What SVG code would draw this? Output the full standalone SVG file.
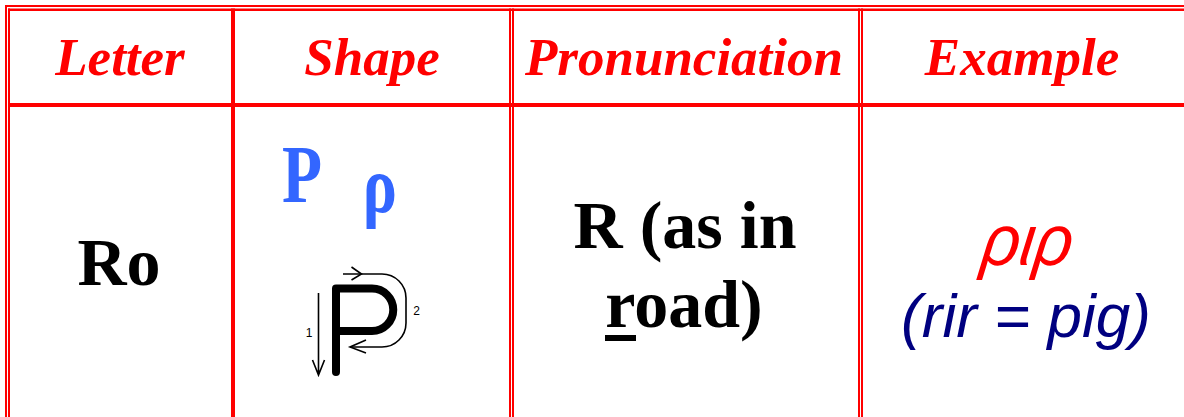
<svg xmlns="http://www.w3.org/2000/svg" width="1184" height="417" viewBox="0 0 1184 417">
<style>
.b{fill:#ff0000}
.hd{font-family:"Liberation Serif",serif;font-weight:bold;font-style:italic;font-size:53px;fill:#ff0000;text-anchor:middle}
.bd{font-family:"Liberation Serif",serif;font-weight:bold;font-size:68px;fill:#000;text-anchor:middle}
.thin{fill:none;stroke:#000;stroke-width:1.6}
</style>
<rect width="1184" height="417" fill="#fff"/>
<g id="table-borders">
<rect class="b" x="5" y="5" width="1179" height="2"/>
<rect class="b" x="5" y="5" width="2" height="412"/>
<rect class="b" x="8" y="8.5" width="1176" height="2.5"/>
<rect class="b" x="8" y="8.5" width="2" height="409"/>
<rect class="b" x="8" y="103" width="1176" height="4"/>
<rect class="b" x="231" y="8.5" width="4" height="409"/>
<rect class="b" x="509" y="8.5" width="2" height="409"/>
<rect class="b" x="512" y="8.5" width="2" height="409"/>
<rect class="b" x="858" y="8.5" width="2" height="409"/>
<rect class="b" x="861" y="8.5" width="2" height="409"/>
</g>
<g id="header">
<text class="hd" x="120" y="75">Letter</text>
<text class="hd" x="372" y="75">Shape</text>
<text class="hd" x="684" y="75">Pronunciation</text>
<text class="hd" x="1022" y="75">Example</text>
</g>
<g id="letter">
<text class="bd" x="119" y="285">Ro</text>
</g>
<g id="shape">
<text x="302" y="202" font-family="'Liberation Serif',serif" font-weight="bold" font-size="82" fill="#3366ff" text-anchor="middle" transform="translate(302 0) scale(0.8 1) translate(-302 0)">Ρ</text>
<text x="380" y="212" font-family="'Liberation Serif',serif" font-weight="bold" font-size="80" fill="#3366ff" text-anchor="middle" transform="translate(380 0) scale(0.8 1) translate(-380 0)">ρ</text>
<path d="M336,372 V288.5 H372 A21.25,21.25 0 0 1 372,331 H336" fill="none" stroke="#000" stroke-width="8" stroke-linecap="round" stroke-linejoin="round"/>
<path class="thin" d="M318.5,293 V375 M312.5,360 L318.5,375 L324.5,360"/>
<path class="thin" d="M343,274 H382 A24,24 0 0 1 406,298 V323 A24,24 0 0 1 382,347 H350"/>
<path class="thin" d="M351.5,267 L361.5,274 L351.5,280"/>
<path class="thin" d="M366,340 L350,347 L366,353"/>
<text x="309" y="337" font-family="'Liberation Sans',sans-serif" font-size="12" text-anchor="middle">1</text>
<text x="416.5" y="315" font-family="'Liberation Sans',sans-serif" font-size="12" text-anchor="middle">2</text>
</g>
<g id="pronunciation">
<text class="bd" x="685" y="248">R (as in</text>
<text class="bd" x="684" y="327">road)</text>
<rect x="605" y="335" width="31" height="6" fill="#000"/>
</g>
<g id="example">
<text x="0" y="0" font-family="'Liberation Sans',sans-serif" font-style="italic" font-size="72" fill="#ff0000" text-anchor="middle" transform="translate(1025 264.5) scale(0.92 1) skewX(-8)">ριρ</text>
<text x="1026" y="337" font-family="'Liberation Sans',sans-serif" font-style="italic" font-size="62" fill="#000080" text-anchor="middle">(rir = pig)</text>
</g>
</svg>
